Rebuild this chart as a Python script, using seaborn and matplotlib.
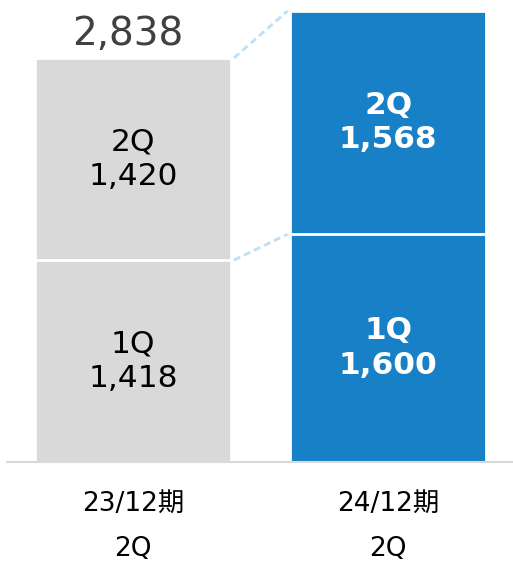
import matplotlib
matplotlib.use("Agg")
import matplotlib.pyplot as plt
import seaborn as sns
import pandas as pd

# Data
periods = ["23/12期\n2Q", "24/12期\n2Q"]
q1_values = [1418, 1600]
q2_values = [1420, 1568]
totals = [a + b for a, b in zip(q1_values, q2_values)]
bar_colors = ["#d9d9d9", "#1780c6"]
text_colors = ["#000000", "#ffffff"]

sns.set_theme(style="white")
plt.rcParams['font.family'] = ['DejaVu Sans', 'Noto Sans CJK JP']

W, H = 513, 563
fig = plt.figure(figsize=(W / 100, H / 100), dpi=100)
ax = fig.add_axes([7 / W, (H - 462) / H, (W - 7) / W, 462 / H])

df = pd.DataFrame({"period": periods, "q1": q1_values, "q2": q2_values, "total": totals})

bw = 0.77
sns.barplot(data=df, x="period", y="total", hue="period", palette=bar_colors, saturation=1,
            width=bw, edgecolor="white", linewidth=2, legend=False, ax=ax)
sns.barplot(data=df, x="period", y="q1", hue="period", palette=bar_colors, saturation=1,
            width=bw, edgecolor="white", linewidth=2, legend=False, ax=ax)

ax.set_xlim(-0.495, 1.489)
ax.set_ylim(0, 3245)

# connector lines between bars
for lvl_l, lvl_r in [(totals[0], totals[1]), (q1_values[0], q1_values[1])]:
    ax.plot([0 + bw / 2 + 0.01, 1 - bw / 2 - 0.01], [lvl_l, lvl_r],
            color="#bde0f5", linestyle=(0, (2.5, 1.5)), linewidth=2, zorder=1)

# segment labels
for i in range(2):
    weight = "bold" if i == 1 else "normal"
    ax.text(i, q1_values[i] / 2, f"1Q\n{q1_values[i]:,}", ha="center", va="center",
            color=text_colors[i], fontsize=22.5, fontweight=weight, linespacing=1.25)
    ax.text(i, q1_values[i] + q2_values[i] / 2, f"2Q\n{q2_values[i]:,}", ha="center", va="center",
            color=text_colors[i], fontsize=22.5, fontweight=weight, linespacing=1.25)

ax.text(-0.02, totals[0] + 35, f"{totals[0]:,}", ha="center", va="bottom",
        color="#404040", fontsize=28)

sns.despine(ax=ax, left=True, top=True, right=True)
ax.spines["bottom"].set_color("#d9d9d9")
ax.spines["bottom"].set_linewidth(1.5)
ax.set_yticks([])
ax.set_xlabel("")
ax.set_ylabel("")
ax.tick_params(axis="x", length=0, pad=21, labelsize=19, labelcolor="black")
for lbl in ax.get_xticklabels():
    lbl.set_linespacing(1.95)

fig.savefig("out.png", dpi=100)
